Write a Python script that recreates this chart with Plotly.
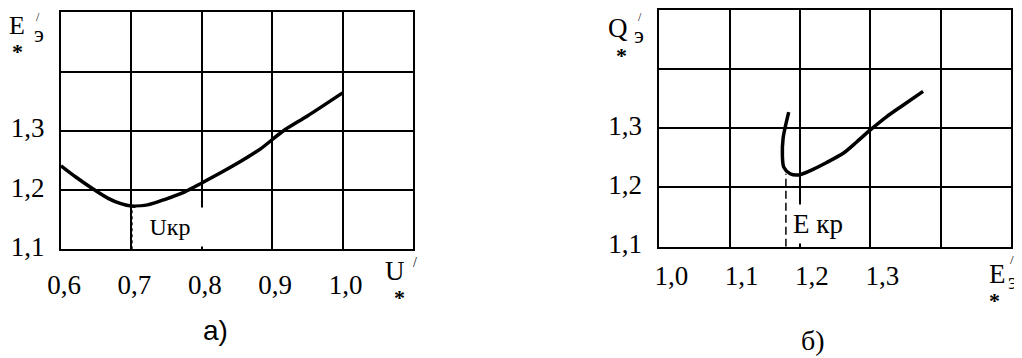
import plotly.graph_objects as go

# panel a): E'*э versus U'*
u_a = [0.600, 0.621, 0.644, 0.667, 0.685, 0.700, 0.723, 0.747, 0.776, 0.800,
       0.828, 0.856, 0.884, 0.916, 0.950, 1.000]
e_a = [1.241, 1.222, 1.203, 1.186, 1.177, 1.173, 1.175, 1.184, 1.197, 1.212,
       1.230, 1.249, 1.270, 1.300, 1.325, 1.364]
u_kr = 0.70
e_at_u_kr = 1.173

# panel b): Q'*э versus E'*э
e_b = [1.184, 1.180, 1.176, 1.175, 1.177, 1.186, 1.198, 1.214, 1.238, 1.262,
       1.281, 1.300, 1.323, 1.347, 1.375]
q_b = [1.327, 1.307, 1.283, 1.253, 1.234, 1.223, 1.221, 1.228, 1.242, 1.258,
       1.277, 1.297, 1.319, 1.339, 1.362]
e_kr = 1.180
q_at_e_kr = 1.223

# tick labels
xa_vals = [0.6, 0.7, 0.8, 0.9, 1.0]
xa_text = ["0,6", "0,7", "0,8", "0,9", "1,0"]
xb_vals = [1.0, 1.1, 1.2, 1.3, 1.4]
xb_text = ["1,0", "1,1", "1,2", "1,3", ""]
y_vals = [1.1, 1.2, 1.3, 1.4]
y_text = ["1,1", "1,2", "1,3", ""]

# the page body has an 8px margin, so the figure is made smaller and shifted
OFF = 8
W, H = 1022 - OFF, 358 - OFF
SERIF = "Liberation Serif, Times New Roman, serif"


def px(x):
    return (x - OFF) / W


def py(y):
    return 1 - (y - OFF) / H


fig = go.Figure()

fig.add_trace(go.Scatter(x=u_a, y=e_a, mode="lines", xaxis="x", yaxis="y",
                         line=dict(color="black", width=3.5, shape="spline", smoothing=0.8)))
fig.add_trace(go.Scatter(x=[u_kr, u_kr], y=[1.1, e_at_u_kr], mode="lines", xaxis="x", yaxis="y",
                         line=dict(color="black", width=2.5, dash="dot")))

fig.add_trace(go.Scatter(x=e_b, y=q_b, mode="lines", xaxis="x2", yaxis="y2",
                         line=dict(color="black", width=3.5, shape="spline", smoothing=0.8)))
fig.add_trace(go.Scatter(x=[e_kr, e_kr], y=[1.1, q_at_e_kr], mode="lines", xaxis="x2", yaxis="y2",
                         line=dict(color="black", width=1.5, dash="8px,4px")))

axis = dict(showgrid=True, gridcolor="black", gridwidth=2, showline=True, linecolor="black",
            linewidth=2, mirror=True, zeroline=False, ticks="", fixedrange=True,
            tickfont=dict(family=SERIF, size=27, color="black"))

fig.update_layout(
    width=W, height=H,
    margin=dict(l=0, r=0, t=0, b=0, autoexpand=False),
    paper_bgcolor="white", plot_bgcolor="white",
    showlegend=False,
    xaxis=dict(axis, domain=[px(61), px(413)], range=[0.6, 1.1], anchor="y",
               tickvals=xa_vals, ticktext=xa_text, ticklabelstandoff=10, ticklabelshift=3),
    yaxis=dict(axis, domain=[py(249.3), py(12.3)], range=[1.1, 1.5], anchor="x",
               tickvals=y_vals, ticktext=y_text, ticklabelstandoff=9, ticklabelshift=-3),
    xaxis2=dict(axis, domain=[px(659.3), px(1011)], range=[1.0, 1.5], anchor="y2",
                tickvals=xb_vals, ticktext=xb_text, ticklabelstandoff=4, ticklabelshift=12),
    yaxis2=dict(axis, domain=[py(246.7), py(9.5)], range=[1.1, 1.5], anchor="x2",
                tickvals=y_vals, ticktext=y_text, ticklabelstandoff=10, ticklabelshift=-3),
)


def label(text, x, y, size, family=SERIF, **kw):
    fig.add_annotation(text=text, x=px(x), y=py(y), xref="paper", yref="paper",
                       showarrow=False, xanchor="center", yanchor="middle",
                       font=dict(family=family, size=size, color="black"), **kw)


STAR = "<b>*</b>"

# axis names built from letter, subscript, prime and asterisk
label("E", 17, 25, 26)
label("э", 39, 34, 23)
label("/", 38, 17, 12)
label(STAR, 17, 51, 22)

label("Q", 618, 28, 27)
label("э", 639, 36, 23)
label("/", 640, 17, 12)
label(STAR, 621, 55, 22)

label("U", 395, 271, 27)
label("/", 415, 262, 14)
label(STAR, 399, 297, 22)

label("E", 997, 274, 27)
label("э", 1013, 281, 23)
label("/", 1012, 259, 13)
label(STAR, 994, 300, 22)

# critical-point labels on white boxes
label("Uкр", 170, 227, 24, bgcolor="white", width=66, height=36)
label("E кр", 818, 224, 27, bgcolor="white", width=56, height=36)

# panel captions
label("а)", 215, 330, 28, family="Liberation Sans")
label("б)", 813, 340, 28)

fig.write_html("out.html")
